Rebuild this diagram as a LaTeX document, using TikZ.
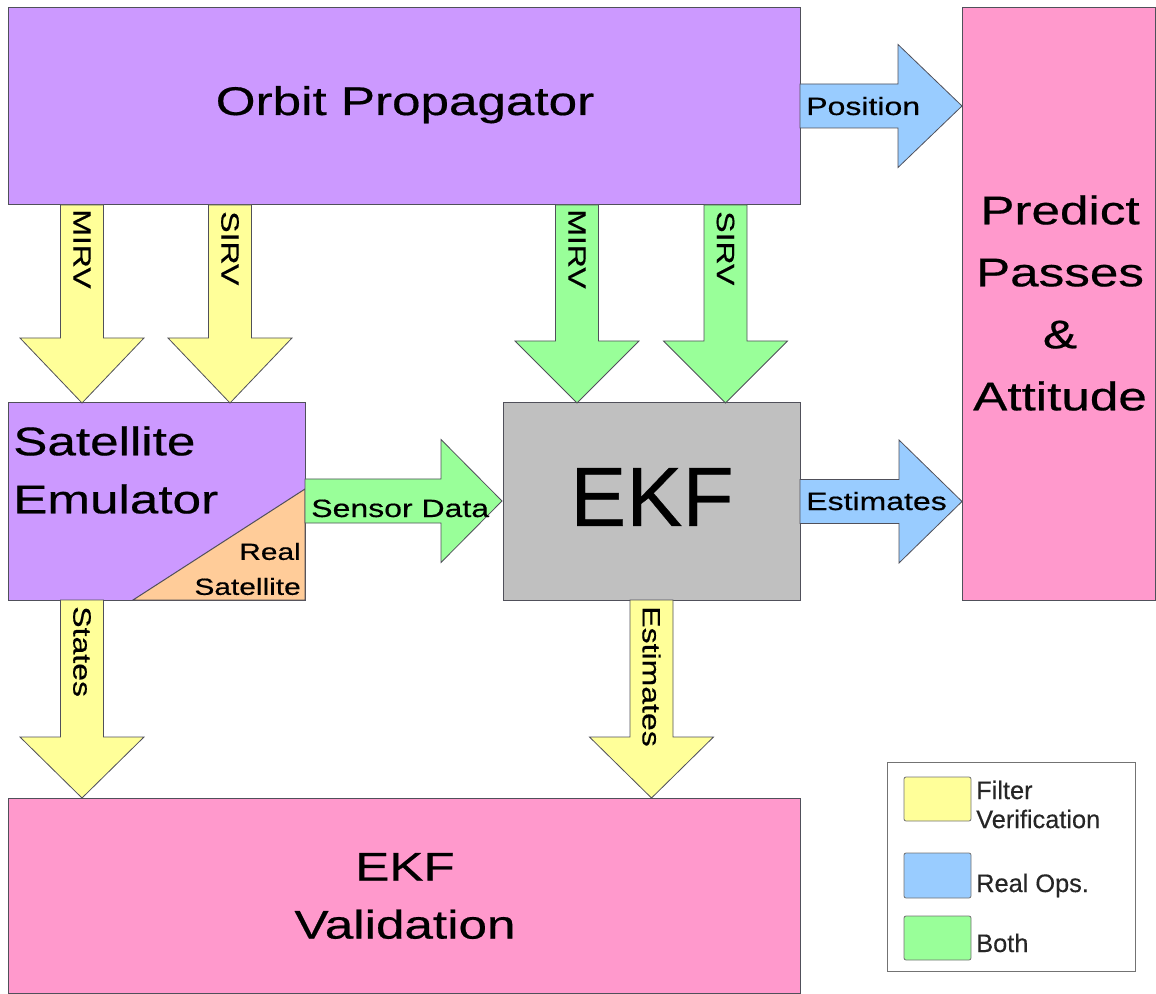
\documentclass[tikz,border=0pt]{standalone}
\usepackage{fontspec}
\setmainfont[FakeBold=0.35]{Liberation Sans}
\newfontfamily\widefont[FakeStretch=1.28,FakeBold=0.5]{Liberation Sans}
\usetikzlibrary{fit}
\definecolor{lav}{RGB}{204,153,255}
\definecolor{pnk}{RGB}{255,153,204}
\definecolor{gry}{RGB}{192,192,192}
\definecolor{org}{RGB}{255,204,153}
\definecolor{yel}{RGB}{255,255,153}
\definecolor{grn}{RGB}{153,255,153}
\definecolor{blu}{RGB}{153,204,255}
\definecolor{edge}{RGB}{80,80,90}
\tikzset{
  box/.style={draw=edge, line width=0.75pt, inner sep=0pt, outer sep=0pt},
  bigtxt/.style={font=\widefont\fontsize{30}{43.5}\selectfont, align=center, inner sep=0pt},
  lbl/.style={font=\widefont\fontsize{18.75}{26}\selectfont, inner sep=0pt},
  legtxt/.style={font=\fontsize{19}{21.75}\selectfont, text=black!85, inner sep=0pt, align=left},
  blockarrow/.style={draw=edge, line width=0.6pt, line join=miter},
  swatch/.style={draw=black!55, line width=0.6pt, rounded corners=1.5pt},
}
% down block arrow: xc, ytop, yhead, ytip, colour
\newcommand\dnblock[5]{%
  \filldraw[blockarrow, fill=#5] (#1-21.5,#2) -- (#1+21.5,#2) -- (#1+21.5,#3) -- (#1+62,#3)
    -- (#1,#4) -- (#1-62,#3) -- (#1-21.5,#3) -- cycle;}
% right block arrow: yc, xleft, xhead, xtip, colour
\newcommand\rtblock[5]{%
  \filldraw[blockarrow, fill=#5] (#2,#1-22) -- (#3,#1-22) -- (#3,#1-61.5) -- (#4,#1)
    -- (#3,#1+61.5) -- (#3,#1+22) -- (#2,#1+22) -- cycle;}
\begin{document}
\begin{tikzpicture}[x=0.75pt,y=-0.75pt]
\useasboundingbox (0,0) rectangle (1156,994);

% boxes
\node[box, fill=lav, fit={(8,8) (800,205)}] (op) {};
\node[bigtxt, anchor=base] (optxt) at (405,115) {Orbit Propagator};
\node[box, fill=pnk, fit={(962,8) (1155,600)}] (pp) {};
\node[bigtxt, font=\widefont\fontsize{30}{46.5}\selectfont] (pptxt) at (1060,303) {Predict\\Passes\\\&\\Attitude};
\node[box, fill=lav, fit={(8,403) (305,600)}] (se) {};
\filldraw[box, fill=org] (305,489) -- (305,600) -- (133,600) -- cycle;
\node[bigtxt, align=left, anchor=west] (setxt) at (13,470) {Satellite\\Emulator};
\node[lbl, align=right, anchor=east, font=\widefont\fontsize{17.5}{26.25}\selectfont] (rs) at (301,569) {Real\\Satellite};
\node[box, fill=gry, fit={(503,403) (800,600)}] (ekf) {};
\node[font=\fontsize{63}{70}\selectfont, inner sep=0pt] (ekftxt) at (652,497) {EKF};
\node[box, fill=pnk, fit={(8,798) (800,993)}] (val) {};
\node[bigtxt] (valtxt) at (405,896) {EKF\\Validation};

% arrows from orbit propagator
\dnblock{82}{205}{338}{403}{yel}
\dnblock{230}{205}{338}{403}{yel}
\dnblock{577}{205}{341}{403}{grn}
\dnblock{725.5}{205}{341}{403}{grn}
\node[lbl, rotate=-90, anchor=west] at (82,209) {MIRV};
\node[lbl, rotate=-90, anchor=west] at (230,211) {SIRV};
\node[lbl, rotate=-90, anchor=west] at (577,209) {MIRV};
\node[lbl, rotate=-90, anchor=west] at (725.5,211) {SIRV};

% downward arrows to validation
\dnblock{82}{600}{737}{798}{yel}
\dnblock{651.5}{600}{737}{798}{yel}
\node[lbl, rotate=-90, anchor=west] at (82,606) {States};
\node[lbl, rotate=-90, anchor=west] at (651.5,606) {Estimates};

% right arrows
\rtblock{501}{305}{441}{502}{grn}
\rtblock{106}{800}{898}{962}{blu}
\rtblock{501.5}{800}{899}{962}{blu}
\node[lbl, anchor=base west] at (311,517) {Sensor Data};
\node[lbl, anchor=base west] at (806,115) {Position};
\node[lbl, anchor=base west] at (806,510) {Estimates};

% legend
\node[draw=black!55, line width=0.6pt, inner sep=0pt, fit={(887,762) (1135,971)}] (leg) {};
\node[swatch, fill=yel, inner sep=0pt, fit={(904,777) (971,821)}] (sw1) {};
\node[swatch, fill=blu, inner sep=0pt, fit={(904,853) (971,898)}] (sw2) {};
\node[swatch, fill=grn, inner sep=0pt, fit={(904,916) (971,960)}] (sw3) {};
\node[legtxt, anchor=west] (l1) at (976,804.5) {Filter\\Verification};
\node[legtxt, anchor=base west] (l2) at (976,892) {Real Ops.};
\node[legtxt, anchor=base west] (l3) at (976,952) {Both};
\end{tikzpicture}
\end{document}
